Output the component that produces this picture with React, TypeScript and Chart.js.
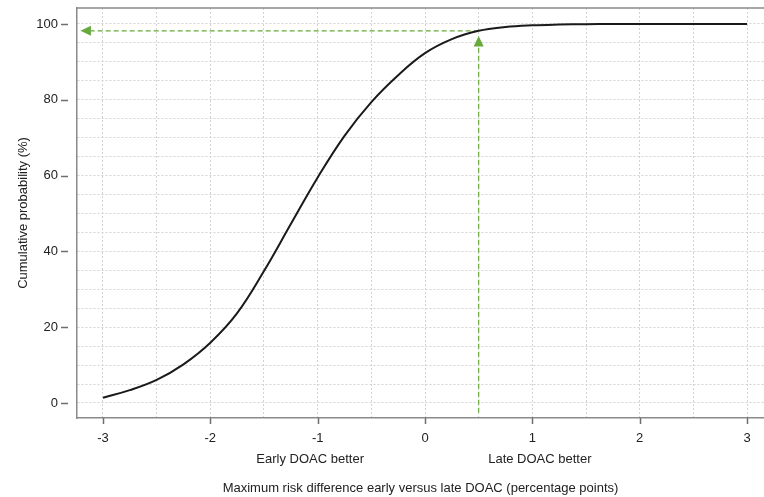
import React, { useEffect, useRef } from 'react';
import { Chart, registerables } from 'chart.js';

Chart.register(...registerables);

// ---- data ----
const xValues = [-3, -2.75, -2.5, -2.25, -2, -1.75, -1.5, -1.25, -1, -0.75, -0.5, -0.25, 0, 0.25, 0.5, 0.75, 1, 1.25, 1.5, 1.75, 2, 2.25, 2.5, 2.75, 3];
const cumulativeProb = [1.4, 3.4, 6.1, 10.2, 15.9, 23.7, 34.8, 47.2, 59.5, 70.5, 79.4, 86.5, 92.3, 96, 98.2, 99.2, 99.65, 99.85, 99.95, 100, 100, 100, 100, 100, 100];

const xTickValues = [-3, -2, -1, 0, 1, 2, 3];
const xTickLabels = ['-3', '-2', '-1', '0', '1', '2', '3'];
const yTickValues = [0, 20, 40, 60, 80, 100];
const yTickLabels = ['0', '20', '40', '60', '80', '100'];

const xRange = [-3.242, 3.158];
const yRange = [-3.96, 104.22];

// reference arrows: [x, y] in data units
const hArrowFrom = [0.5, 98.2];
const hArrowTo = [-3.21, 98.2];
const vArrowFrom = [0.5, -2.6];
const vArrowTo = [0.5, 96.8];

const sideLabels = ['Early DOAC better', 'Late DOAC better'];
const sideLabelX = [-1.07, 1.07];

const xTitle = 'Maximum risk difference early versus late DOAC (percentage points)';
const yTitle = 'Cumulative probability (%)';

const FONT = '"Liberation Sans", Arial, Helvetica, sans-serif';
const GREEN = '#68a93d';
const AXIS_GRAY = '#8a8a8a';

function drawArrow(ctx: CanvasRenderingContext2D, x0: number, y0: number, x1: number, y1: number) {
  const dx = x1 - x0;
  const dy = y1 - y0;
  const len = Math.hypot(dx, dy);
  const ux = dx / len;
  const uy = dy / len;
  const headLen = 10.5;
  const headHalf = 5;
  const bx = x1 - ux * headLen;
  const by = y1 - uy * headLen;
  ctx.save();
  ctx.strokeStyle = GREEN;
  ctx.fillStyle = GREEN;
  ctx.lineWidth = 1.2;
  ctx.setLineDash([5, 3]);
  ctx.beginPath();
  ctx.moveTo(x0, y0);
  ctx.lineTo(bx, by);
  ctx.stroke();
  ctx.setLineDash([]);
  ctx.beginPath();
  ctx.moveTo(x1, y1);
  ctx.lineTo(bx - uy * headHalf, by + ux * headHalf);
  ctx.lineTo(bx + uy * headHalf, by - ux * headHalf);
  ctx.closePath();
  ctx.fill();
  ctx.restore();
}

const decorPlugin = {
  id: 'decor',
  beforeDatasetsDraw(chart: any) {
    const { ctx, scales } = chart;
    const x = scales.x;
    const y = scales.y;
    drawArrow(ctx, x.getPixelForValue(hArrowFrom[0]), y.getPixelForValue(hArrowFrom[1]), x.getPixelForValue(hArrowTo[0]), y.getPixelForValue(hArrowTo[1]));
    drawArrow(ctx, x.getPixelForValue(vArrowFrom[0]), y.getPixelForValue(vArrowFrom[1]), x.getPixelForValue(vArrowTo[0]), y.getPixelForValue(vArrowTo[1]));
  },
  afterDraw(chart: any) {
    const { ctx, scales, chartArea } = chart;
    const x = scales.x;
    const y = scales.y;
    ctx.save();
    // top frame line
    ctx.strokeStyle = AXIS_GRAY;
    ctx.lineWidth = 1.5;
    ctx.beginPath();
    ctx.moveTo(chartArea.left, chartArea.top);
    ctx.lineTo(chartArea.right, chartArea.top);
    ctx.stroke();
    // tick marks
    ctx.strokeStyle = '#6e6e6e';
    ctx.lineWidth = 1.5;
    xTickValues.forEach((v) => {
      const px = Math.round(x.getPixelForValue(v)) + 0.5;
      ctx.beginPath();
      ctx.moveTo(px, chartArea.bottom);
      ctx.lineTo(px, chartArea.bottom + 6);
      ctx.stroke();
    });
    yTickValues.forEach((v) => {
      const py = Math.round(y.getPixelForValue(v)) + 0.5;
      ctx.beginPath();
      ctx.moveTo(chartArea.left - 16, py);
      ctx.lineTo(chartArea.left - 9, py);
      ctx.stroke();
    });
    // side labels
    ctx.fillStyle = '#222';
    ctx.font = `13px ${FONT}`;
    ctx.textAlign = 'center';
    ctx.textBaseline = 'middle';
    sideLabels.forEach((t, i) => {
      ctx.fillText(t, x.getPixelForValue(sideLabelX[i]), chartArea.bottom + 41);
    });
    ctx.restore();
  },
};

export default function App() {
  const canvasRef = useRef<HTMLCanvasElement | null>(null);

  useEffect(() => {
    document.body.style.margin = '0';
    const canvas = canvasRef.current;
    if (!canvas) return;
    const chart = new Chart(canvas, {
      type: 'line',
      data: {
        datasets: [
          {
            data: xValues.map((v, i) => ({ x: v, y: cumulativeProb[i] })),
            borderColor: '#1a1a1a',
            borderWidth: 2,
            pointRadius: 0,
            tension: 0.4,
            fill: false,
          },
        ],
      },
      options: {
        responsive: false,
        animation: false,
        events: [],
        layout: { padding: { top: 8, right: 0, left: 0, bottom: 0 } },
        plugins: {
          legend: { display: false },
          tooltip: { enabled: false },
        },
        scales: {
          x: {
            type: 'linear',
            min: xRange[0],
            max: xRange[1],
            afterFit: (scale: any) => {
              scale.height = 79;
              scale.paddingLeft = 0;
              scale.paddingRight = 0;
            },
            ticks: {
              stepSize: 0.5,
              includeBounds: false,
              autoSkip: false,
              maxRotation: 0,
              padding: 13,
              color: '#222',
              font: { family: FONT, size: 13 },
              callback: (v: any) => {
                const idx = xTickValues.indexOf(Number(v));
                return idx >= 0 ? xTickLabels[idx] : '';
              },
            },
            grid: { color: '#d2d2d2', lineWidth: 1, drawTicks: false },
            border: { display: true, color: AXIS_GRAY, width: 1.5, dash: [2, 2] },
            title: {
              display: true,
              text: xTitle,
              color: '#222',
              font: { family: FONT, size: 13 },
              padding: { top: 0, bottom: 1 },
            },
          },
          y: {
            type: 'linear',
            min: yRange[0],
            max: yRange[1],
            afterFit: (scale: any) => {
              scale.width = 77;
              scale.paddingTop = 0;
              scale.paddingBottom = 0;
            },
            ticks: {
              stepSize: 5,
              includeBounds: false,
              autoSkip: false,
              padding: 19,
              color: '#222',
              font: { family: FONT, size: 13 },
              callback: (v: any) => {
                const idx = yTickValues.indexOf(Number(v));
                return idx >= 0 ? yTickLabels[idx] : '';
              },
            },
            grid: { color: '#d2d2d2', lineWidth: 1, drawTicks: false },
            border: { display: true, color: AXIS_GRAY, width: 1.5, dash: [2, 2] },
            title: {
              display: true,
              text: yTitle,
              color: '#222',
              font: { family: FONT, size: 13 },
              padding: { top: 16, bottom: 0 },
            },
          },
        },
      },
      plugins: [decorPlugin],
    } as any);
    return () => chart.destroy();
  }, []);

  return (
    <div style={{ width: 764, height: 497, overflow: 'hidden' }}>
      <canvas ref={canvasRef} width={764} height={497} style={{ display: 'block' }} />
    </div>
  );
}
